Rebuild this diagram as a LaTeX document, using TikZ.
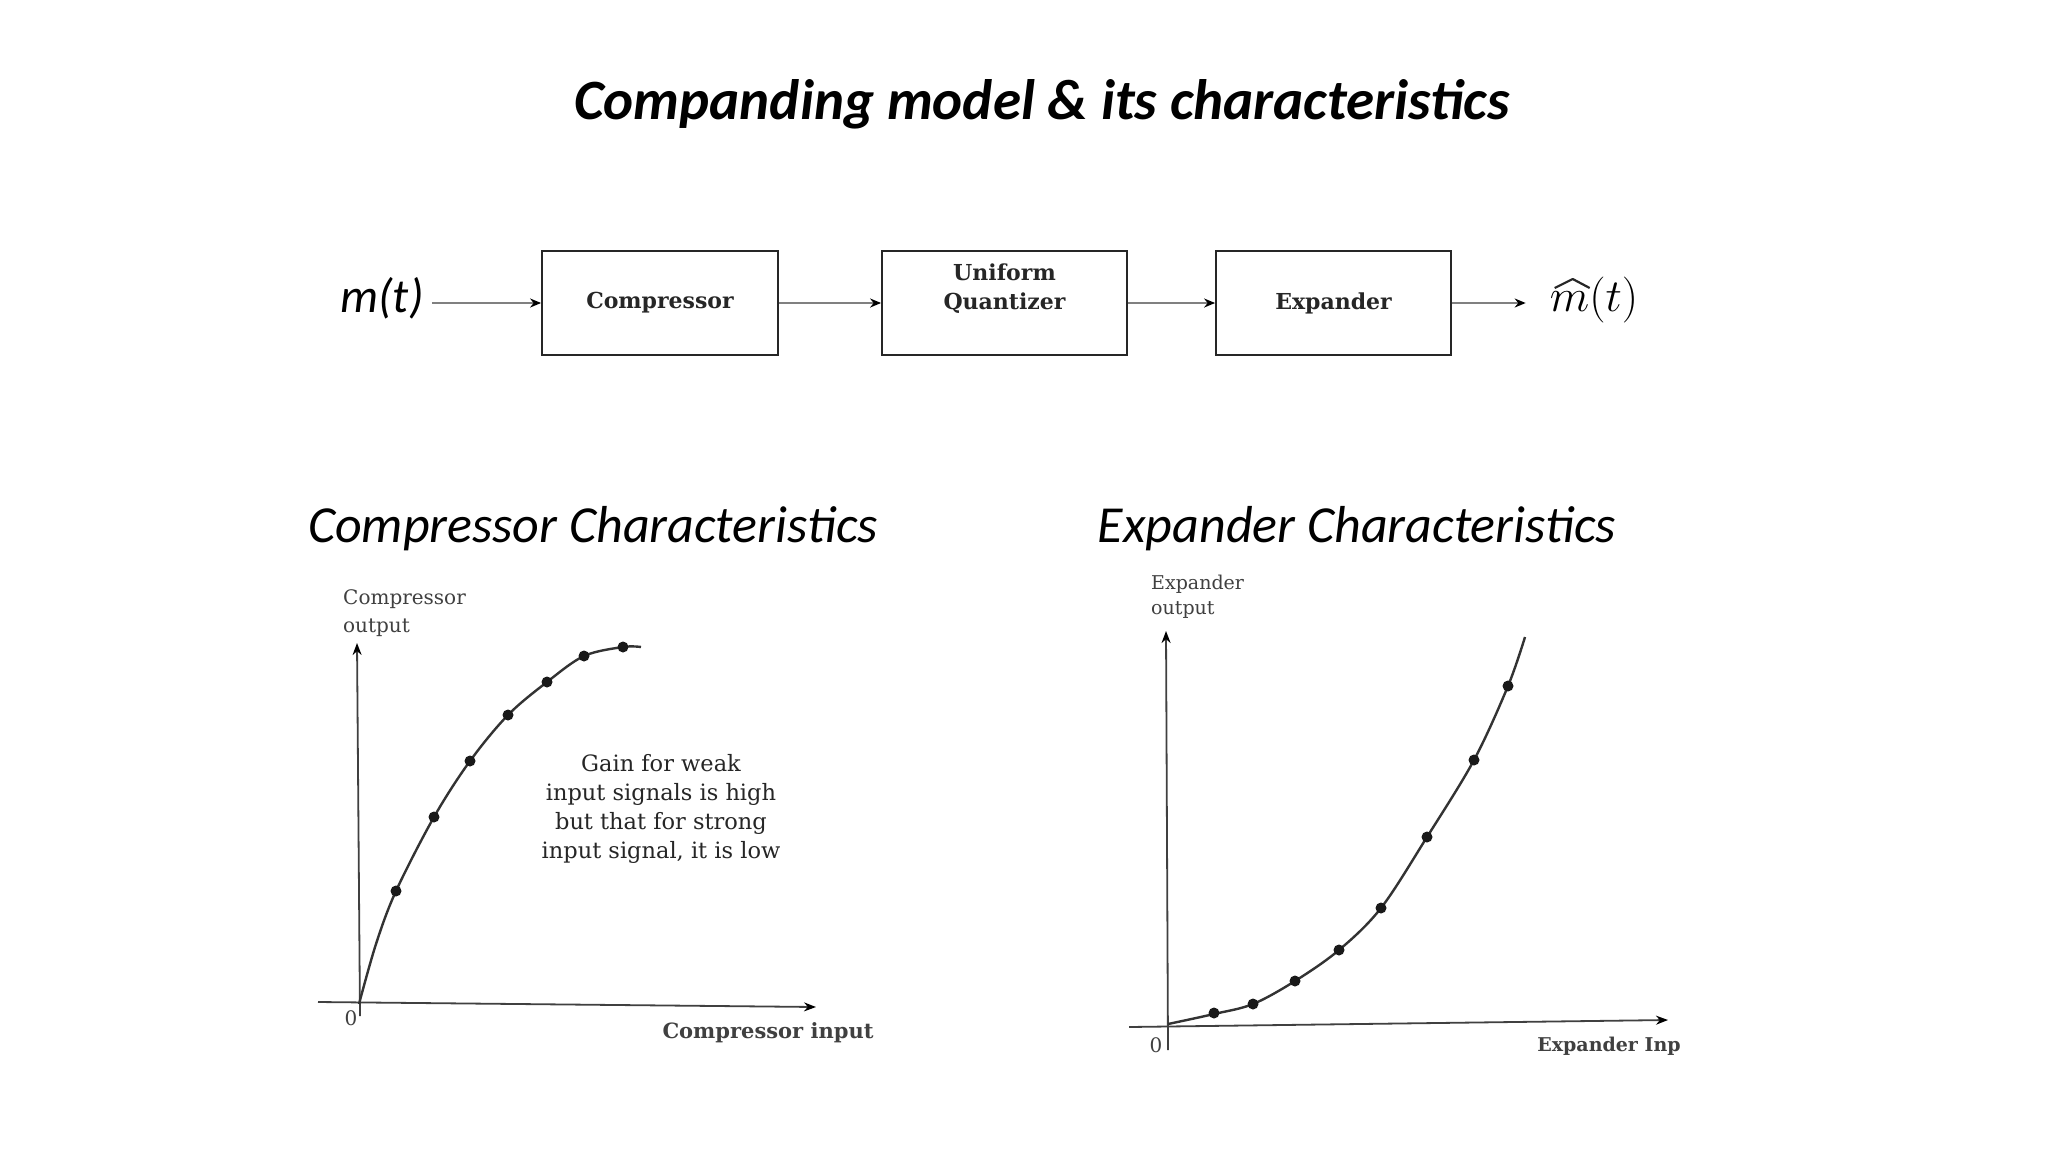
\RequirePackage{fix-cm}
\documentclass[tikz,border=0pt]{standalone}
\usepackage{fontspec}
\newfontfamily\carlito{Carlito}
\newfontfamily\djs{DejaVu Serif}
\usetikzlibrary{arrows.meta,calc}
\begin{document}
\begin{tikzpicture}[x=1pt,y=-1pt,
  blk/.style={draw=black!85, line width=1.8pt, minimum width=236pt, minimum height=104pt, inner sep=0pt},
  blkfont/.style={font=\djs\bfseries\fontsize{22}{29}\selectfont, text=black!85, align=center, inner sep=0pt},
  conn/.style={draw=black!50, line width=2.4pt, -{Stealth[length=11pt,width=9pt,color=black]}},
  ax/.style={line width=1.8pt, draw=black!75, -{Stealth[length=12pt,width=9pt,color=black]}},
  crv/.style={line width=2.4pt, draw=black!80},
  dotn/.style={circle, fill=black!90, inner sep=0pt, minimum size=11pt},
  lbl/.style={font=\djs\fontsize{20}{27}\selectfont, text=black!75, inner sep=0pt},
  sub/.style={font=\carlito\itshape\fontsize{52}{60}\selectfont, inner sep=0pt}
]
\useasboundingbox[fill=white] (0,0) rectangle (2048,1152);

% title
\node[font=\carlito\bfseries\itshape\fontsize{57}{66}\selectfont, inner sep=0pt] (title) at (1042,104) {Companding model \& its characteristics};

% block diagram
\node[font=\carlito\itshape\fontsize{48}{56}\selectfont, inner sep=0pt] (min) at (382,298) {m(t)};
\node[blk] (comp) at (660,303) {};
\node[blkfont] (comptxt) at (660,303) {Compressor};
\node[blk, minimum width=245pt] (quant) at (1004.5,303) {};
\node[blkfont] (quanttxt) at (1004.5,289) {Uniform\\Quantizer};
\node[blk, minimum width=235pt] (exp) at (1333.5,303) {};
\node[blkfont] (exptxt) at (1333.5,303) {Expander};
\node[font=\fontsize{46}{54}\selectfont, inner sep=0pt] (mout) at (1594,300) {$m(t)$};
\draw[line width=2.2pt, black!85, line join=round]
  ($(mout.west)+(5,-12)$) -- ($(mout.west)+(23,-21)$) -- ($(mout.west)+(40,-12)$);

\draw[conn, shorten <=8pt] (min.east |- comp.west) -- (comp.west);
\draw[conn] (comp.east) -- (quant.west);
\draw[conn] (quant.east) -- (exp.west);
\draw[conn, shorten >=24pt] (exp.east) -- (mout.west |- exp.east);

% subtitles
\node[sub] (subc) at (593,529) {Compressor Characteristics};
\node[sub] (sube) at (1357,529) {Expander Characteristics};

% compressor plot
\coordinate (o1) at (359,1004);
\coordinate (c1top) at (357,643);
\coordinate (c1bot) at (360,1016);
\coordinate (c1l) at (318,1002);
\coordinate (c1r) at (816,1007);
\draw[ax] (c1bot) -- (c1top);
\draw[ax] (c1l) -- (c1r);
\draw[crv] plot[smooth, tension=0.55] coordinates {(359,1004) (376,944) (396,891) (434,817) (470,761) (508,715) (547,682) (584,656) (623,647) (641,647)};
\node[dotn] (cd1) at (396,891) {};
\node[dotn] (cd2) at (434,817) {};
\node[dotn] (cd3) at (470,761) {};
\node[dotn] (cd4) at (508,715) {};
\node[dotn] (cd5) at (547,682) {};
\node[dotn] (cd6) at (584,656) {};
\node[dotn] (cd7) at (623,647) {};
\node[lbl, anchor=west, align=left, font=\djs\fontsize{20}{28}\selectfont] (cylab) at (343,613) {Compressor\\output};
\node[lbl] (c0) at (351,1018) {0};
\node[lbl, font=\djs\bfseries\fontsize{21}{26}\selectfont] (cxlab) at (768,1033) {Compressor input};
\node[lbl, align=center, text=black!85, font=\djs\fontsize{22.5}{29}\selectfont] (gain) at (661,809) {Gain for weak\\input signals is high\\but that for strong\\input signal, it is low};

% expander plot
\coordinate (o2) at (1168,1024);
\coordinate (e1top) at (1166,631);
\coordinate (e1bot) at (1168,1050);
\coordinate (e1l) at (1129,1027);
\coordinate (e1r) at (1668,1020);
\draw[ax] (e1bot) -- (e1top);
\draw[ax] (e1l) -- (e1r);
\draw[crv] plot[smooth, tension=0.55] coordinates {(1168,1024) (1214,1014) (1253,1004) (1295,981) (1339,950) (1381,908) (1427,837) (1474,760) (1508,686) (1525,637)};
\node[dotn] (ed1) at (1214,1013) {};
\node[dotn] (ed2) at (1253,1004) {};
\node[dotn] (ed3) at (1295,981) {};
\node[dotn] (ed4) at (1339,950) {};
\node[dotn] (ed5) at (1381,908) {};
\node[dotn] (ed6) at (1427,837) {};
\node[dotn] (ed7) at (1474,760) {};
\node[dotn] (ed8) at (1508,686) {};
\node[lbl, anchor=west, align=left, font=\djs\fontsize{19}{25}\selectfont] (eylab) at (1151,597) {Expander\\output};
\node[lbl] (e0) at (1156,1045) {0};
\node[lbl, font=\djs\bfseries\fontsize{19}{24}\selectfont] (exlab) at (1609,1046) {Expander Inp};
\end{tikzpicture}
\end{document}
